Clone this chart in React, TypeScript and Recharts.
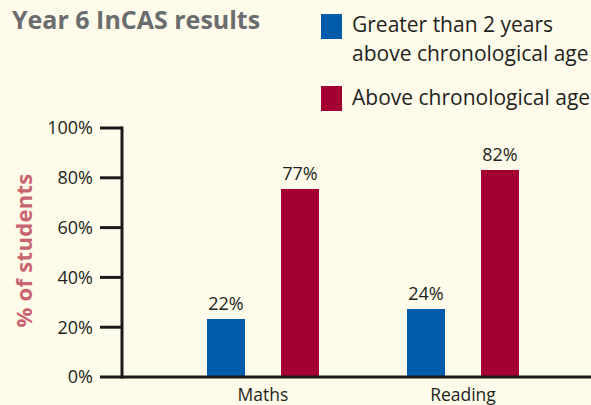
import { BarChart, Bar, XAxis, YAxis, LabelList, Label } from 'recharts';

const subjects = ['Maths', 'Reading'];
// bar heights as drawn, and the labels printed above them
const twoYearsAbove = [23.3, 27.3];
const twoYearsAboveLabels = ['22%', '24%'];
const aboveAge = [75.5, 83.1];
const aboveAgeLabels = ['77%', '82%'];
const yTicks = [0, 20, 40, 60, 80, 100];
const seriesNames = [['Greater than 2 years', 'above chronological age'], ['Above chronological age']];
const seriesColors = ['#005BAA', '#A50034'];

const data = subjects.map((s, i) => ({
  subject: s,
  blue: twoYearsAbove[i],
  blueLabel: twoYearsAboveLabels[i],
  red: aboveAge[i],
  redLabel: aboveAgeLabels[i],
}));

const FONT = '"Open Sans", sans-serif';
const INK = '#231f20';

const YTitle = (props: any) => {
  const vb = props.viewBox;
  const x = vb.x + 32;
  const y = vb.y + vb.height / 2 - 2;
  return (
    <text x={x} y={y} transform={`rotate(-90 ${x} ${y})`} textAnchor="middle"
      fill="#C8646F" fontFamily={FONT} fontWeight={700} fontSize={22} letterSpacing={0.3}>
      % of students
    </text>
  );
};

const App = () => {
  return (
    <div style={{ position: 'fixed', left: 0, top: 0, width: 591, height: 405, background: '#FFFBEA', fontFamily: FONT, overflow: 'hidden' }}>
      <div style={{ position: 'absolute', left: 12, top: 7, fontSize: 25, lineHeight: '25px', fontWeight: 700, color: '#6B6C6E', whiteSpace: 'nowrap' }}>
        Year 6 InCAS results
      </div>

      <div style={{ position: 'absolute', left: 321, top: 14, width: 21, height: 25, background: seriesColors[0] }} />
      <div style={{ position: 'absolute', left: 352, top: 10, fontSize: 21, lineHeight: '29px', color: INK, whiteSpace: 'nowrap' }}>
        {seriesNames[0].map((l) => <div key={l}>{l}</div>)}
      </div>
      <div style={{ position: 'absolute', left: 321, top: 86, width: 21, height: 25, background: seriesColors[1] }} />
      <div style={{ position: 'absolute', left: 352, top: 83, fontSize: 21, lineHeight: '29px', color: INK, whiteSpace: 'nowrap' }}>
        {seriesNames[1].map((l) => <div key={l}>{l}</div>)}
      </div>

      <BarChart width={591} height={405} data={data} margin={{ top: 128, right: 0, left: 0, bottom: 0 }}
        barSize={38} barGap={36}>
        <XAxis dataKey="subject" height={28} tickLine={false} tickSize={0} tickMargin={12}
          padding={{ left: 41, right: 28 }}
          axisLine={{ stroke: '#1a1a1a', strokeWidth: 3 }}
          tick={{ fill: INK, fontSize: 17.5, fontFamily: FONT }} />
        <YAxis width={122} domain={[0, 100]} ticks={yTicks} interval={0}
          tickFormatter={(v: number) => `${v}%`}
          tickSize={22} tickMargin={7}
          axisLine={{ stroke: '#1a1a1a', strokeWidth: 3, strokeLinecap: 'square' }}
          tickLine={{ stroke: '#1a1a1a', strokeWidth: 3 }}
          tick={{ fill: INK, fontSize: 18, fontFamily: FONT }}>
          <Label content={YTitle} />
        </YAxis>
        <Bar dataKey="blue" fill={seriesColors[0]} isAnimationActive={false}>
          <LabelList dataKey="blueLabel" position="top" offset={9} fill={INK} fontSize={18} fontFamily={FONT} />
        </Bar>
        <Bar dataKey="red" fill={seriesColors[1]} isAnimationActive={false}>
          <LabelList dataKey="redLabel" position="top" offset={9} fill={INK} fontSize={18} fontFamily={FONT} />
        </Bar>
      </BarChart>
    </div>
  );
};

export default App;
